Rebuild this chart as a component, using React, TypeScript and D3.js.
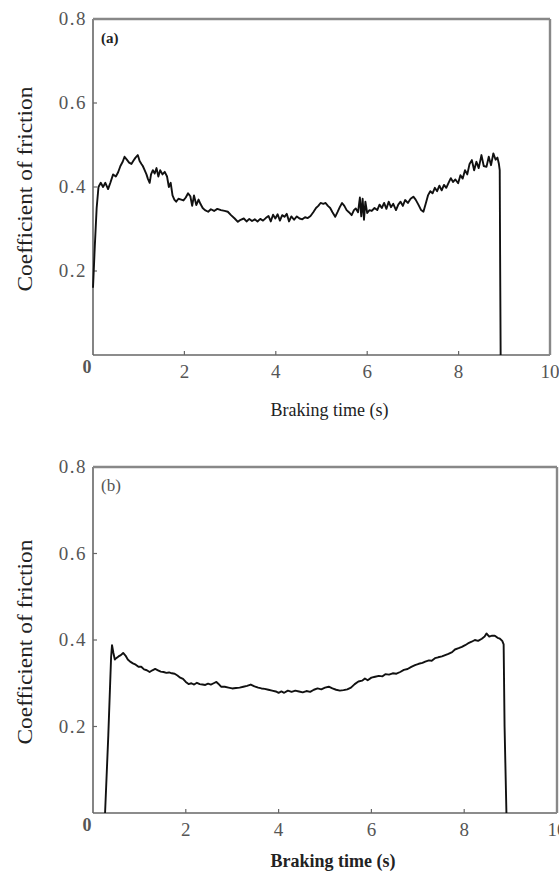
import React from "react";
import * as d3 from "d3";

const xTicks = [2, 4, 6, 8, 10];
const yTicks = [0.2, 0.4, 0.6, 0.8];

const aTime = [0.0,0.04,0.08,0.12,0.17,0.22,0.27,0.33,0.38,0.44,0.5,0.55,0.6,0.65,0.69,0.74,0.79,0.84,0.88,0.93,0.98,1.02,1.06,1.09,1.13,1.17,1.2,1.24,1.27,1.31,1.35,1.39,1.43,1.47,1.52,1.57,1.62,1.66,1.7,1.74,1.78,1.82,1.87,1.93,1.98,2.03,2.08,2.13,2.17,2.21,2.26,2.31,2.35,2.4,2.45,2.52,2.58,2.65,2.72,2.8,2.88,2.95,3.02,3.1,3.17,3.23,3.3,3.36,3.42,3.48,3.54,3.6,3.66,3.72,3.78,3.84,3.89,3.94,3.99,4.04,4.09,4.14,4.19,4.24,4.29,4.34,4.4,4.46,4.52,4.58,4.64,4.7,4.76,4.82,4.88,4.93,4.98,5.04,5.09,5.14,5.19,5.24,5.3,5.35,5.4,5.45,5.5,5.55,5.6,5.66,5.71,5.75,5.8,5.84,5.87,5.9,5.93,5.96,6.0,6.05,6.1,6.16,6.22,6.27,6.32,6.37,6.42,6.47,6.52,6.57,6.63,6.68,6.73,6.78,6.83,6.89,6.95,7.01,7.06,7.12,7.18,7.23,7.28,7.33,7.38,7.43,7.48,7.53,7.58,7.63,7.68,7.73,7.78,7.83,7.88,7.93,7.99,8.04,8.09,8.14,8.19,8.24,8.29,8.34,8.39,8.44,8.5,8.55,8.61,8.66,8.71,8.76,8.81,8.85,8.88,8.9,8.91,8.92];
const aCof = [0.16,0.26,0.35,0.4,0.41,0.4,0.41,0.395,0.41,0.43,0.425,0.435,0.45,0.46,0.472,0.465,0.458,0.455,0.462,0.47,0.476,0.462,0.455,0.45,0.44,0.43,0.42,0.41,0.43,0.44,0.432,0.445,0.425,0.44,0.43,0.436,0.425,0.4,0.41,0.38,0.37,0.365,0.372,0.37,0.368,0.375,0.385,0.378,0.355,0.38,0.357,0.37,0.36,0.35,0.345,0.341,0.347,0.343,0.348,0.345,0.343,0.341,0.333,0.325,0.317,0.322,0.325,0.318,0.324,0.319,0.323,0.318,0.324,0.32,0.326,0.331,0.318,0.334,0.325,0.335,0.32,0.333,0.329,0.336,0.318,0.33,0.322,0.33,0.325,0.323,0.328,0.326,0.331,0.34,0.35,0.355,0.362,0.36,0.362,0.355,0.35,0.34,0.329,0.34,0.352,0.362,0.355,0.345,0.34,0.333,0.345,0.349,0.34,0.375,0.33,0.372,0.322,0.365,0.338,0.345,0.343,0.35,0.345,0.358,0.35,0.362,0.348,0.365,0.352,0.36,0.345,0.358,0.365,0.355,0.369,0.362,0.372,0.377,0.37,0.358,0.345,0.341,0.36,0.38,0.39,0.385,0.398,0.39,0.403,0.392,0.405,0.398,0.41,0.421,0.412,0.418,0.409,0.428,0.42,0.44,0.43,0.455,0.464,0.44,0.46,0.445,0.476,0.45,0.448,0.472,0.452,0.48,0.465,0.47,0.456,0.44,0.2,0.0];

const bTime = [0.26,0.33,0.39,0.41,0.44,0.47,0.5,0.55,0.6,0.65,0.7,0.75,0.8,0.86,0.92,0.98,1.04,1.1,1.16,1.22,1.28,1.34,1.4,1.46,1.52,1.58,1.64,1.7,1.76,1.82,1.88,1.94,2.0,2.06,2.12,2.18,2.24,2.3,2.36,2.42,2.48,2.54,2.6,2.66,2.7,2.76,2.84,2.92,3.0,3.08,3.16,3.24,3.32,3.4,3.48,3.56,3.63,3.7,3.78,3.86,3.94,4.0,4.06,4.12,4.2,4.28,4.36,4.44,4.52,4.6,4.68,4.76,4.84,4.92,5.0,5.08,5.16,5.24,5.32,5.4,5.48,5.56,5.64,5.72,5.8,5.86,5.92,6.0,6.08,6.16,6.24,6.3,6.38,6.46,6.54,6.62,6.7,6.78,6.86,6.94,7.02,7.1,7.16,7.24,7.3,7.37,7.44,7.52,7.59,7.66,7.74,7.8,7.88,7.95,8.02,8.08,8.16,8.23,8.3,8.38,8.44,8.48,8.54,8.6,8.66,8.72,8.77,8.82,8.85,8.87,8.91];
const bCof = [0.0,0.18,0.36,0.388,0.37,0.355,0.358,0.362,0.365,0.37,0.364,0.355,0.35,0.346,0.343,0.338,0.338,0.332,0.33,0.326,0.33,0.333,0.33,0.327,0.326,0.324,0.325,0.323,0.322,0.318,0.313,0.31,0.303,0.298,0.3,0.297,0.301,0.298,0.297,0.296,0.299,0.297,0.3,0.303,0.299,0.292,0.292,0.29,0.288,0.289,0.29,0.292,0.294,0.297,0.293,0.29,0.288,0.287,0.285,0.283,0.281,0.278,0.281,0.278,0.283,0.28,0.283,0.281,0.279,0.282,0.28,0.285,0.288,0.286,0.29,0.292,0.288,0.285,0.283,0.284,0.286,0.29,0.298,0.304,0.306,0.311,0.307,0.313,0.315,0.317,0.316,0.321,0.32,0.323,0.322,0.326,0.331,0.333,0.338,0.342,0.345,0.347,0.35,0.353,0.352,0.358,0.36,0.362,0.365,0.368,0.372,0.378,0.381,0.384,0.388,0.392,0.396,0.4,0.398,0.403,0.408,0.415,0.408,0.41,0.41,0.405,0.403,0.398,0.39,0.2,0.0];

const FONT = "'Liberation Serif', 'Times New Roman', serif";

type PanelProps = {
  times: number[];
  cof: number[];
  left: number;
  right: number;
  top: number;
  bottom: number;
  tag: string;
  tagBold: boolean;
  xLabelY: number;
  xLabelBold: boolean;
};

function Panel({ times, cof, left, right, top, bottom, tag, tagBold, xLabelY, xLabelBold }: PanelProps) {
  const x = d3.scaleLinear().domain([0, 10]).range([left, right]);
  const y = d3.scaleLinear().domain([0, 0.8]).range([bottom, top]);
  const pts: [number, number][] = times.map((t, i) => [t, cof[i]]);
  const line = d3
    .line<[number, number]>()
    .x((d) => x(d[0]))
    .y((d) => y(d[1]));
  const tickCol = "#555";
  const midY = (top + bottom) / 2;
  return (
    <g>
      {/* frame */}
      <line x1={left} x2={left} y1={top} y2={bottom} stroke="#666" strokeWidth={1.6} />
      <line x1={left} x2={right} y1={bottom} y2={bottom} stroke="#666" strokeWidth={1.6} />
      <line x1={left} x2={right} y1={top} y2={top} stroke="#888" strokeWidth={2.4} />
      <line x1={right} x2={right} y1={top} y2={bottom} stroke="#888" strokeWidth={2.4} />
      {/* y ticks */}
      {yTicks.map((v) => (
        <g key={"y" + v}>
          {v < 0.8 && <line x1={left} x2={left + 4} y1={y(v)} y2={y(v)} stroke="#666" strokeWidth={1.2} />}
          <text
            x={left - 6}
            y={y(v) + 6}
            textAnchor="end"
            fontFamily={FONT}
            fontSize={19}
            letterSpacing={1.5}
            fill={tickCol}
          >
            {v.toFixed(1)}
          </text>
        </g>
      ))}
      {/* x ticks */}
      {xTicks.map((t) => (
        <g key={"x" + t}>
          {t < 10 && <line x1={x(t)} x2={x(t)} y1={bottom} y2={bottom - 4} stroke="#666" strokeWidth={1.2} />}
          <text
            x={x(t)}
            y={bottom + 23}
            textAnchor="middle"
            fontFamily={FONT}
            fontSize={19}
            fill={tickCol}
          >
            {String(t)}
          </text>
        </g>
      ))}
      <text x={left - 6} y={bottom + 18} textAnchor="middle" fontFamily={FONT} fontSize={18} fontWeight="bold" fill={tickCol}>
        0
      </text>
      {/* tag */}
      <text x={left + 8} y={top + 24} fontFamily={FONT} fontSize={tagBold ? 15 : 17} fontWeight={tagBold ? "bold" : "normal"} fill={tagBold ? "#222" : "#555"}>
        {tag}
      </text>
      {/* axis titles */}
      <text
        x={(left + right) / 2 + 8}
        y={xLabelY}
        textAnchor="middle"
        fontFamily={FONT}
        fontSize={18}
        fontWeight={xLabelBold ? "bold" : "normal"}
        fill="#222"
      >
        Braking time (s)
      </text>
      <text
        transform={`translate(32, ${midY + 2}) rotate(-90)`}
        textAnchor="middle"
        fontFamily={FONT}
        fontSize={20}
        fill="#222"
        textLength={205}
        lengthAdjust="spacingAndGlyphs"
      >
        Coefficient of friction
      </text>
      {/* curve */}
      <path d={line(pts) || ""} fill="none" stroke="#111" strokeWidth={1.9} strokeLinejoin="round" />
    </g>
  );
}

export default function App() {
  return (
    <svg
      width={559}
      height={874}
      style={{ position: "absolute", left: 0, top: 0, background: "#fff" }}
    >
      <rect x={0} y={0} width={559} height={874} fill="#fff" />
      <Panel times={aTime} cof={aCof} left={93} right={550} top={19} bottom={355} tag="(a)" tagBold={true} xLabelY={416} xLabelBold={false} />
      <Panel times={bTime} cof={bCof} left={93} right={557} top={467} bottom={813} tag="(b)" tagBold={false} xLabelY={867} xLabelBold={true} />
    </svg>
  );
}
